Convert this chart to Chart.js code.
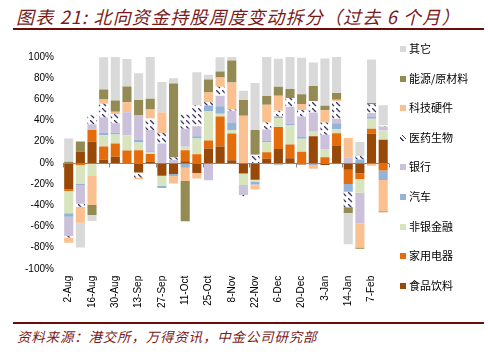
<!DOCTYPE html>
<html lang="zh">
<head>
<meta charset="UTF-8">
<title>北向资金持股周度变动拆分</title>
<script src="https://cdn.jsdelivr.net/npm/chart.js@4.4.0/dist/chart.umd.min.js"></script>
<style>
    body {
        margin: 0;
        width: 488px;
        height: 358px;
        position: relative;
        overflow: hidden;
        background: #fff;
        font-family: "Noto Sans CJK SC", sans-serif;
    }
    .title {
        position: absolute;
        left: 16px;
        top: 3px;
        font-size: 18px;
        font-style: italic;
        color: #7b1a1a;
        letter-spacing: 1.2px;
        white-space: nowrap;
    }
    .rule {
        position: absolute;
        left: 13px;
        width: 471px;
        height: 2px;
        background: #6e0b0b;
    }
    .source {
        position: absolute;
        left: 17px;
        top: 326px;
        font-size: 13.5px;
        font-style: italic;
        color: #7b1a1a;
        letter-spacing: 0.8px;
        white-space: nowrap;
    }
    #wrap {
        position: absolute;
        left: 0;
        top: 30px;
        width: 488px;
        height: 290px;
    }
    #legend {
        position: absolute;
        left: 400px;
        top: 0;
    }
    .item {
        position: absolute;
        left: 0;
        height: 14px;
        line-height: 14px;
        font-size: 11px;
        color: #000;
        white-space: nowrap;
    }
    .item span.box {
        display: inline-block;
        width: 6px;
        height: 6px;
        margin-right: 3px;
        vertical-align: 1px;
    }
</style>
</head>
<body>
<div class="title">图表 21: 北向资金持股周度变动拆分（过去 6 个月）</div>
<div class="rule" style="top:28px"></div>
<div id="wrap"><canvas id="chart"></canvas></div>
<div id="legend"></div>
<div class="rule" style="top:322px"></div>
<div class="source">资料来源：港交所，万得资讯，中金公司研究部</div>

<script>
// weekly dates, only every other one is shown on the axis
const dates = ['2-Aug', '9-Aug', '16-Aug', '23-Aug', '30-Aug', '6-Sep', '13-Sep', '20-Sep',
    '27-Sep', '4-Oct', '11-Oct', '18-Oct', '25-Oct', '1-Nov', '8-Nov', '15-Nov',
    '22-Nov', '29-Nov', '6-Dec', '13-Dec', '20-Dec', '27-Dec', '3-Jan', '7-Jan',
    '14-Jan', '24-Jan', '7-Feb', '14-Feb'];

// contribution to weekly change (%), stacked bottom-up in this order
const food      = [-25, 10.7, 20, 3, 5.7, 0, -9.2, 1.3, -11.4, -10.5, 1.6, -9.5, 13.6, 15.5, 2.5, -10, -16, 4, 13, 4.4, -1.6, 25.2, -2, 16, -6.6, -9.8, 27.5, 21.8];
const appliance = [-1.5, -2, 11, 12.5, 12.6, 11.7, 12, 7, -1, 0, 10.4, 8.2, 7.5, 28.3, 25.3, 0, 0, 6, 21, 13, 10.6, 0, 5.4, 12, -13.3, -5.4, 4.7, -7.3];
const nonbank   = [-21, -18, -12.3, 10.5, 8.5, 14.3, 7.3, 1.5, -9.2, 0, 3.2, 14.8, 28, 2.5, 3.2, -10.8, -1.7, 9.5, 8.3, 18.3, 12.3, 4.3, 7.6, 3.8, 0, -13, 9.5, 8.8];
const autos     = [-3.5, -1, 0.5, 2.5, 1.6, 0, 2.5, 1.2, -2.2, -2, -4.6, 2.2, 5.2, 7.1, 7.2, 0, -2.5, 1.3, 1.6, 1.3, 2, -2, 0, 5.7, -7.3, 3.2, 2.2, -8.8];
const banks     = [-18, -17.5, 5, 14.3, 9, 21.7, 23.4, 20, 18.3, 3, 17, 9.5, -16.5, 9.9, 11, -9.5, -1, 10.7, -2.2, 16, 19, 18.1, 13.5, 4.1, 5.4, -29, 3.2, 3.8];
const pharma    = [-1.5, -3, 8.5, 13, 8.7, -1, -4.7, 11, 10, 2, 13.3, 19.5, 3, 8.5, 1.2, -1.5, 7.6, 6.6, 5.4, 8.3, 6, 10.6, 11.7, 16.4, -14.8, 3.2, 8.2, 1];
const techHw    = [-5, -15, -27.5, 4, 2.3, 9.5, -1.5, 8.5, 19.3, -7, -12.6, -5.3, 9.2, 8.9, 25.6, 44.5, -4, 16.8, 14.2, 0, 5.7, -3.5, 11.4, 1.6, 18, -22.7, -2.8, -29.7];
const energy    = [1, 9.5, -9.5, 9.5, 10.5, 15, 14.2, 10, 0, 70, -38, 0, 12.2, 5.6, 20.6, 14.9, 23.4, 8.2, 8.5, 8.5, 9.2, 14.5, 4.4, 6.3, -5.4, -1.3, 1.3, -0.8];
const other     = [22, -23.5, -5.5, 30.5, 41, 26, 25.3, 39.5, 28.8, 5, 0, 31.4, 4.5, 13.4, 3.3, 8.8, 44.5, 36.8, 26.3, 30.2, 34.4, 22, 44.6, 34, -29.4, 13.3, 41, 19];

const seriesNames  = ['食品饮料', '家用电器', '非银金融', '汽车', '银行', '医药生物', '科技硬件', '能源/原材料', '其它'];
const seriesData   = [food, appliance, nonbank, autos, banks, pharma, techHw, energy, other];
const seriesColors = ['#984807', '#e46c0a', '#d7e4bd', '#95b3d7', '#ccc1da', 'hatch', '#fac090', '#948a54', '#d9d9d9'];

const yTicks = [-100, -80, -60, -40, -20, 0, 20, 40, 60, 80, 100];

function makeHatch() {
    const c = document.createElement('canvas');
    c.width = 6;
    c.height = 6;
    const g = c.getContext('2d');
    g.fillStyle = '#fff';
    g.fillRect(0, 0, 6, 6);
    g.strokeStyle = '#3c3868';
    g.lineWidth = 1.3;
    g.beginPath();
    g.moveTo(0, 0);
    g.lineTo(4, 4);
    g.stroke();
    return g.createPattern(c, 'repeat');
}
const hatch = makeHatch();

// zero line with a tick mark every four weeks
const zeroAxis = {
    id: 'zeroAxis',
    afterDatasetsDraw(chart) {
        const { ctx, chartArea, scales: { x, y } } = chart;
        const y0 = Math.round(y.getPixelForValue(0)) + 0.5;
        const step = x.width / dates.length;
        ctx.save();
        ctx.strokeStyle = '#868686';
        ctx.lineWidth = 1;
        ctx.beginPath();
        ctx.moveTo(chartArea.left, y0);
        ctx.lineTo(chartArea.right, y0);
        for (let i = 0; i <= dates.length; i += 4) {
            const px = Math.round(x.getPixelForValue(0) - step / 2 + i * step) + 0.5;
            ctx.moveTo(px, y0);
            ctx.lineTo(px, y0 + 4);
        }
        ctx.stroke();
        ctx.restore();
    }
};

const datasets = seriesNames.map((name, i) => ({
    label: name,
    data: seriesData[i],
    backgroundColor: seriesColors[i] === 'hatch' ? hatch : seriesColors[i],
    borderWidth: 0,
    barPercentage: 0.78,
    categoryPercentage: 1.0
}));

new Chart(document.getElementById('chart'), {
    type: 'bar',
    data: { labels: dates, datasets: datasets },
    plugins: [zeroAxis],
    options: {
        responsive: true,
        maintainAspectRatio: false,
        animation: false,
        layout: { padding: { left: 16, right: 99, top: 27, bottom: 5 } },
        plugins: {
            legend: { display: false },
            tooltip: { enabled: false }
        },
        scales: {
            x: {
                stacked: true,
                grid: { display: false, drawTicks: false },
                border: { display: false },
                ticks: {
                    autoSkip: false,
                    minRotation: 90,
                    maxRotation: 90,
                    padding: 7,
                    color: '#000',
                    font: { family: 'Liberation Sans, Arial', size: 10 },
                    callback: (v, i) => (i % 2 === 0 ? dates[i] : '')
                }
            },
            y: {
                stacked: true,
                min: -100,
                max: 100,
                afterBuildTicks: (axis) => { axis.ticks = yTicks.map(v => ({ value: v })); },
                grid: { display: false, drawTicks: false },
                border: { display: false },
                ticks: {
                    padding: 9,
                    color: '#000',
                    font: { family: 'Liberation Sans, Arial', size: 10 },
                    callback: (v) => v + '%'
                }
            }
        }
    }
});

// legend on the right, same order as the reference (top of stack first)
const legend = document.getElementById('legend');
for (let k = 0; k < seriesNames.length; k++) {
    const i = seriesNames.length - 1 - k;
    const item = document.createElement('div');
    item.className = 'item';
    item.style.top = (41 + k * 29.6) + 'px';
    const box = document.createElement('span');
    box.className = 'box';
    if (seriesColors[i] === 'hatch') {
        box.style.background = 'repeating-linear-gradient(45deg, #fff 0 2px, #3c3868 2px 3px)';
    } else {
        box.style.background = seriesColors[i];
    }
    item.appendChild(box);
    item.appendChild(document.createTextNode(seriesNames[i]));
    legend.appendChild(item);
}
</script>
</body>
</html>
